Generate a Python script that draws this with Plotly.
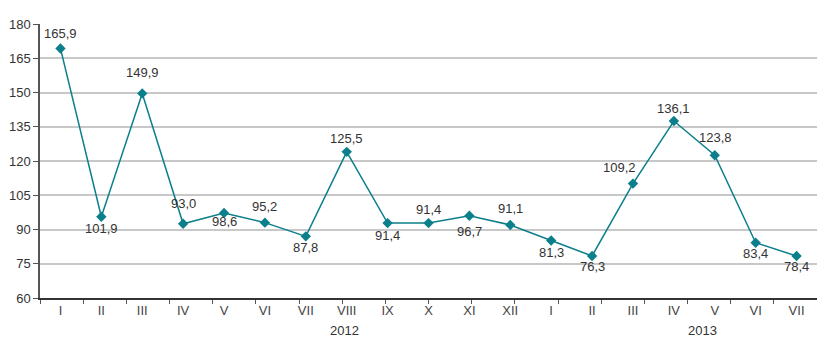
import plotly.graph_objects as go

months = ["I", "II", "III", "IV", "V", "VI", "VII", "VIII", "IX", "X", "XI", "XII",
          "I", "II", "III", "IV", "V", "VI", "VII"]
values = [169.3, 95.6, 149.6, 92.5, 97.2, 93.0, 87.0, 124.0, 92.8, 92.8, 96.0, 92.0,
          85.2, 78.4, 110.1, 137.5, 122.5, 84.2, 78.4]
labels = ["165,9", "101,9", "149,9", "93,0", "98,6", "95,2", "87,8", "125,5", "91,4", "91,4",
          "96,7", "91,1", "81,3", "76,3", "109,2", "136,1", "123,8", "83,4", "78,4"]
years = ["2012", "2013"]
y_ticks = [60, 75, 90, 105, 120, 135, 150, 165, 180]

# label offsets in pixels (style only): (dx, dy), dy positive = up
label_offsets = [(0, 15), (0, -12), (0, 21), (0, 20), (0, -8), (0, 16), (0, -11), (0, 13),
                 (0, -12), (0, 14), (0, -16), (0, 16), (0, -12), (0, -11), (-13, 16),
                 (0, 13), (1, 18), (0, -11), (0, -11)]

x = list(range(len(months)))
teal = "#0b7f8b"
txt = "#333333"
font = "Liberation Sans, Arial, sans-serif"

fig = go.Figure()
fig.add_trace(go.Scatter(
    x=x, y=values, mode="lines+markers",
    line=dict(color=teal, width=1.5),
    marker=dict(symbol="diamond", size=8, color=teal),
    cliponaxis=False, hoverinfo="skip", showlegend=False,
))

for xi, yi, t, (dx, dy) in zip(x, values, labels, label_offsets):
    fig.add_annotation(x=xi, y=yi, text=t, showarrow=False, xshift=dx, yshift=dy,
                       xanchor="center", yanchor="middle",
                       font=dict(family=font, size=13, color=txt))

for name, xpos in zip(years, [6.95, 15.7]):
    fig.add_annotation(x=xpos, y=-0.118, xref="x", yref="paper", text=name,
                       showarrow=False, yanchor="middle",
                       font=dict(family=font, size=13, color=txt))

fig.update_layout(
    width=817, height=340,
    margin=dict(l=40, r=0, t=24, b=42),
    paper_bgcolor="white", plot_bgcolor="white",
    font=dict(family=font, size=13, color=txt),
    xaxis=dict(
        range=[-0.5, 18.5], tickmode="array", tickvals=x, ticktext=months,
        ticks="", showgrid=False, zeroline=False,
        showline=True, linecolor="#333333", linewidth=1.5,
        tickfont=dict(family=font, size=13, color="#444444"),
        minor=dict(tickmode="linear", tick0=-0.5, dtick=19 / 18, ticks="outside",
                   ticklen=4, tickcolor="#555555", tickwidth=1, showgrid=False),
    ),
    yaxis=dict(
        range=[60, 180], tickmode="array", tickvals=y_ticks,
        ticks="outside", ticklen=5, tickcolor="#555555",
        showgrid=True, gridcolor="#c8c8c8", gridwidth=1.5,
        zeroline=False, showline=True, linecolor="#555555", linewidth=1.5,
        tickfont=dict(family=font, size=13, color="#333333"),
    ),
)

fig.write_html("out.html", config={"displayModeBar": False},
               post_script="document.body.style.margin='0';")
